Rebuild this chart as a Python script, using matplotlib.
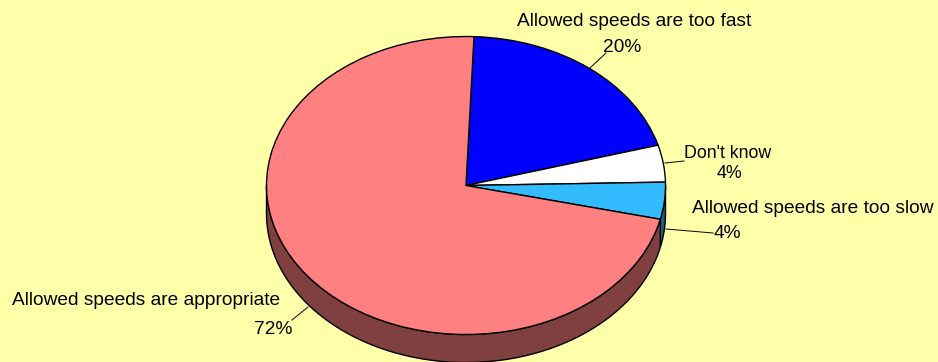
import numpy as np
import matplotlib
matplotlib.use('Agg')
import matplotlib.pyplot as plt

plt.rcParams['font.family'] = ['Liberation Sans', 'DejaVu Sans']

labels = ['Allowed speeds are too fast', "Don't know", 'Allowed speeds are too slow', 'Allowed speeds are appropriate']
values = [20, 4, 4, 72]
pct_labels = ['20%', '4%', '4%', '72%']
top_colors = ['#0000FF', '#FFFFFF', '#33BBFF', '#FF8080']
side_colors = ['#000080', '#808080', '#1A6080', '#804040']

W, H = 938, 362
cx, cy, rx, ry = 466, 185.5, 199.5, 149   # ellipse in pixels
depth = 28 / ry
start = 2.3   # degrees clockwise from 12 o'clock
bg = '#FFFFAA'

fig = plt.figure(figsize=(W / 100, H / 100), dpi=100, facecolor=bg)
# axes covers the whole figure, pie radius 1 maps onto rx / ry pixels
ax = fig.add_axes([0, 0, 1, 1])
ax.set_facecolor(bg)

# side wall first, only the front half of the ellipse can be seen
cum = start
for v, c in zip(values, side_colors):
    t0 = max(cum, 90)
    t1 = min(cum + v * 3.6, 270)
    cum += v * 3.6
    if t1 <= t0:
        continue
    t = np.radians(np.linspace(t0, t1, 200))
    xs = np.sin(t)
    ys = np.cos(t)
    ax.fill(np.r_[xs, xs[::-1]], np.r_[ys, ys[::-1] - depth], facecolor=c, edgecolor='black', lw=1, zorder=1)

ax.pie(values, colors=top_colors, startangle=90 - start, counterclock=False,
       wedgeprops={'edgecolor': 'black', 'linewidth': 1, 'zorder': 2})
ax.set_aspect('auto')
ax.set_xlim(-cx / rx, (W - cx) / rx)
ax.set_ylim(-(H - cy) / ry, cy / ry)
ax.axis('off')


def px(x, y):
    return x / W, 1 - y / H


# leader lines
leaders = [((590, 68), (606, 53)), ((665, 163), (684, 161)), ((666, 229), (713, 233)), ((292, 320), (308, 307))]
for a, b in leaders:
    fig.add_artist(plt.Line2D(*zip(px(*a), px(*b)), color='black', lw=0.7, transform=fig.transFigure))

label_pos = [(634, 21.5), (728, 153.5), (813, 208.5), (146, 300.5)]
pct_pos = [(622, 48), (729, 174), (727, 234), (273, 329)]
sizes = [13.8, 12.8, 13.8, 13.8]
for lab, pct, lp, pp, fs in zip(labels, pct_labels, label_pos, pct_pos, sizes):
    fig.text(*px(*lp), lab, ha='center', va='center', fontsize=fs, color='black')
    fig.text(*px(*pp), pct, ha='center', va='center', fontsize=fs, color='black')

fig.savefig('out.png', dpi=100, facecolor=bg)
